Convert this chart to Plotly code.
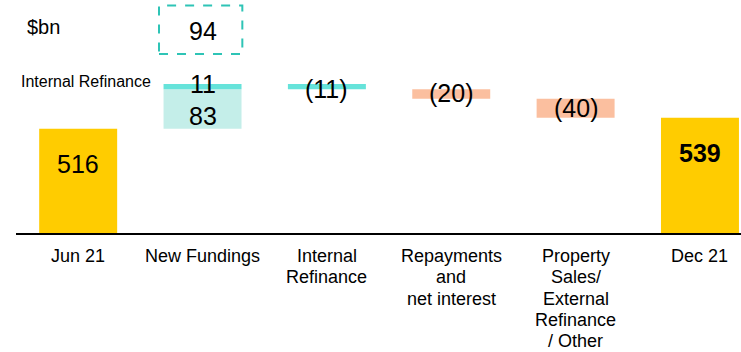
import plotly.graph_objects as go

# Loan book bridge, $bn
categories = ["Jun 21", "New Fundings", "Internal Refinance",
              "Repayments and net interest",
              "Property Sales/ External Refinance / Other", "Dec 21"]
# how each category label is broken over lines under the axis
category_lines = [["Jun 21"], ["New Fundings"], ["Internal", "Refinance"],
                  ["Repayments", "and", "net interest"],
                  ["Property", "Sales/", "External", "Refinance", "/ Other"],
                  ["Dec 21"]]
opening = 516
new_fundings = 83
internal_refinance = 11
repayments = -20
property_sales = -40
closing = 539

YELLOW = "#FFCC00"
LIGHT_TEAL = "#C4EEE9"
TEAL = "#66E3DA"
SALMON = "#FBBF9F"
FONT = "Liberation Sans, Arial, sans-serif"

# running levels of the bridge
lvl_fund = opening + new_fundings
lvl_top = lvl_fund + internal_refinance
lvl_after_refi = lvl_top - internal_refinance
lvl_after_repay = lvl_after_refi + repayments

fig = go.Figure()
fig.add_bar(x=[categories[0], categories[5]], y=[opening, closing],
            marker_color=YELLOW, marker_line_width=0)
fig.add_bar(x=[categories[1]], y=[new_fundings], base=[opening],
            marker_color=LIGHT_TEAL, marker_line_width=0)
fig.add_bar(x=[categories[1], categories[2]],
            y=[internal_refinance, -internal_refinance],
            base=[lvl_fund, lvl_top],
            marker_color=TEAL, marker_line_width=0)
fig.add_bar(x=[categories[3], categories[4]], y=[repayments, property_sales],
            base=[lvl_after_refi, lvl_after_repay],
            marker_color=SALMON, marker_line_width=0)

def fmt(v):
    return f"({abs(v)})" if v < 0 else f"{v}"

ann = dict(showarrow=False, yanchor="middle",
           font=dict(family=FONT, size=25, color="black"))
fig.add_annotation(x=categories[0], y=opening, yshift=-35, text=fmt(opening), **ann)
fig.add_annotation(x=categories[5], y=closing, yshift=-35,
                   text=f"<b>{closing}</b>", **ann)
fig.add_annotation(x=categories[1], y=opening + new_fundings / 2, yshift=-7,
                   text=fmt(new_fundings), **ann)
fig.add_annotation(x=categories[1], y=lvl_top, yshift=0,
                   text=fmt(internal_refinance), **ann)
fig.add_annotation(x=categories[2], y=lvl_top - internal_refinance / 2, yshift=-2,
                   text=fmt(-internal_refinance), **ann)
fig.add_annotation(x=categories[3], y=lvl_after_refi + repayments / 2, yshift=1,
                   text=fmt(repayments), **ann)
fig.add_annotation(x=categories[4], y=lvl_after_repay + property_sales / 2,
                   yshift=0, text=fmt(property_sales), **ann)

# total new fundings callout
fig.add_shape(type="rect", xref="x", yref="paper", x0=0.65, x1=1.32,
              y0=0.768, y1=0.976,
              line=dict(color="#2EC4B6", width=2, dash="dash"))
fig.add_annotation(x=categories[1], xref="x", y=0.866, yref="paper",
                   text=fmt(new_fundings + internal_refinance), **ann)

fig.add_annotation(x=0.013, xref="paper", y=0.882, yref="paper", xanchor="left",
                   yanchor="middle", text="$bn", showarrow=False,
                   font=dict(family=FONT, size=20, color="black"))
fig.add_annotation(xref="paper", yref="paper", x=0.004, y=0.650, xanchor="left",
                   yanchor="middle", text="Internal Refinance", showarrow=False,
                   font=dict(family=FONT, size=16, color="black"))

# category labels under the axis, one line at a time
for cat, lines in zip(categories, category_lines):
    for i, line in enumerate(lines):
        fig.add_annotation(x=cat, xref="x", y=0, yref="paper", yanchor="middle",
                           yshift=-(23 + 21.3 * i), text=line, showarrow=False,
                           font=dict(family=FONT, size=18, color="black"))

fig.update_layout(
    width=741, height=352,
    margin=dict(l=16, r=0, t=0, b=119),
    plot_bgcolor="white", paper_bgcolor="white",
    barmode="overlay", bargap=0.373, showlegend=False,
    font=dict(family=FONT, color="black"),
    xaxis=dict(type="category", categoryorder="array", categoryarray=categories,
               range=[-0.5, 5.33], showline=True, linecolor="black",
               linewidth=1.5, showgrid=False, ticks="", showticklabels=False),
    yaxis=dict(range=[298, 785.5], visible=False, showgrid=False),
)

fig.write_html("out.html")
